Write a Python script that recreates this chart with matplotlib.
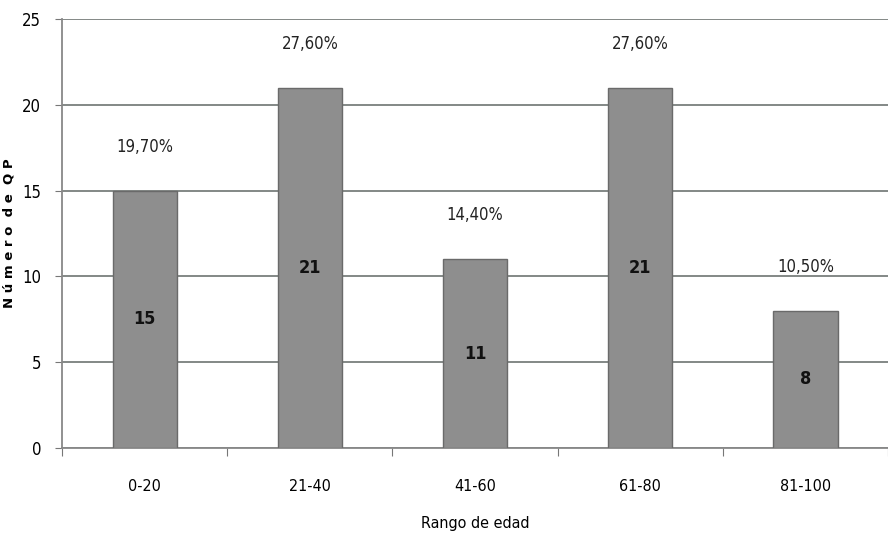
import matplotlib.pyplot as plt
import numpy as np

rangos = ['0-20', '21-40', '41-60', '61-80', '81-100']
num_qp = [15, 21, 11, 21, 8]
porcentajes = ['19,70%', '27,60%', '14,40%', '27,60%', '10,50%']

plt.rcParams['font.family'] = ['DejaVu Sans']
plt.rcParams['font.stretch'] = 'condensed'

fig, ax = plt.subplots(figsize=(8.88, 5.41), dpi=100)
fig.subplots_adjust(left=0.07, right=1.0, top=0.965, bottom=0.172)

x = np.arange(len(rangos))
ax.bar(x, num_qp, width=0.39, color='#8e8e8e', edgecolor='#6a6a6a',
       linewidth=1.0, zorder=3)

for xi, v, p in zip(x, num_qp, porcentajes):
    ax.text(xi, v / 2, str(v), ha='center', va='center', fontsize=13,
            fontweight='bold', color='#111111', zorder=4)
    ax.text(xi, v + 2.55, p, ha='center', va='center', fontsize=12,
            color='#222222', zorder=4)

ax.set_xlim(-0.5, len(rangos) - 0.5)
ax.set_ylim(0, 25)
ax.set_yticks(range(0, 26, 5))
ax.yaxis.grid(True, color='#7a7f7d', linewidth=1.3, zorder=0)

# category ticks sit on the boundaries, labels in the middle
ax.set_xticks(np.arange(-0.5, len(rangos), 1.0))
ax.set_xticklabels([])
ax.set_xticks(x, minor=True)
ax.set_xticklabels(rangos, minor=True, fontsize=11.5)
ax.tick_params(axis='x', which='minor', length=0, pad=22)
ax.tick_params(axis='x', which='major', length=6, color='#777777')
ax.tick_params(axis='y', length=5, color='#777777', labelsize=12, pad=10)

for side in ['top', 'right']:
    ax.spines[side].set_visible(False)
for side in ['left', 'bottom']:
    ax.spines[side].set_color('#888888')
    ax.spines[side].set_linewidth(1.3)

ax.set_xlabel('Rango de edad', fontsize=11.5, labelpad=16)
ax.set_ylabel('N ú m e r o  d e  Q P', fontsize=9.5, fontweight='bold',
              fontstretch='normal')
ax.yaxis.set_label_coords(-0.057, 0.5)

fig.savefig('out.png')
